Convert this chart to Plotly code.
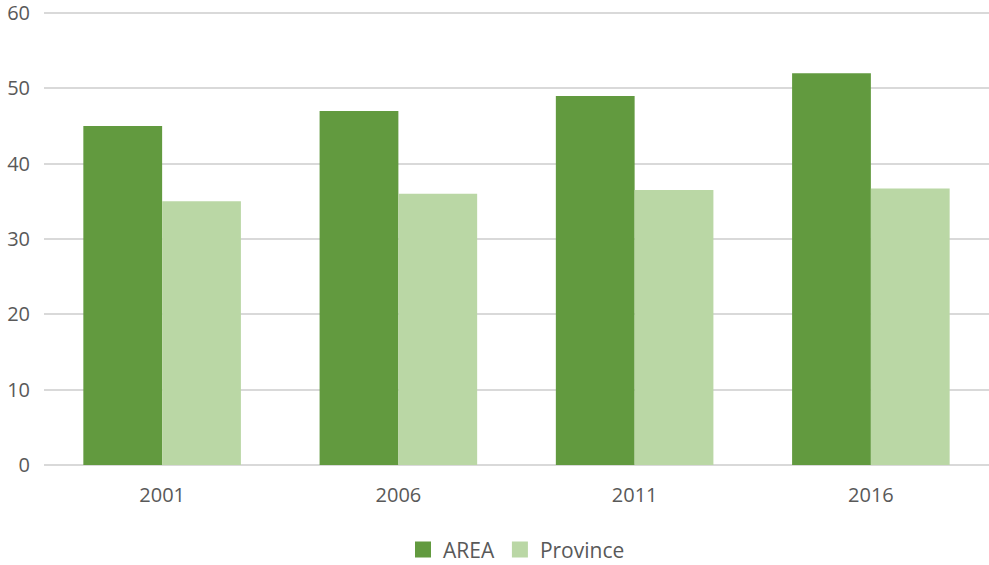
import plotly.graph_objects as go

years = ["2001", "2006", "2011", "2016"]
area = [45, 47, 49, 52]
province = [35, 36, 36.5, 36.7]

series_names = ["AREA", "Province"]
colors = ["#629A3F", "#BAD7A5"]

font = "Open Sans"
fig = go.Figure()
fig.add_trace(go.Bar(name=series_names[0], x=years, y=area, showlegend=False,
                     marker=dict(color=colors[0], line=dict(width=0))))
fig.add_trace(go.Bar(name=series_names[1], x=years, y=province, showlegend=False,
                     marker=dict(color=colors[1], line=dict(width=0))))
# legend entries with larger square swatches
for n, c in zip(series_names, colors):
    fig.add_trace(go.Scatter(name=n, x=[None], y=[None], mode="markers",
                             marker=dict(symbol="square", size=19, color=c), showlegend=True))

fig.update_layout(
    width=989, height=565,
    margin=dict(l=44, r=0, t=10, b=100, autoexpand=False),
    paper_bgcolor="white", plot_bgcolor="white",
    barmode="group", bargap=0.333, bargroupgap=0,
    font=dict(family=font, size=20, color="#595959"),
    showlegend=True,
    legend=dict(orientation="h", x=0.5, xanchor="center", xref="paper",
                y=0.027, yanchor="middle", yref="container",
                font=dict(size=21, color="#595959"), itemsizing="trace", itemwidth=30),
    xaxis=dict(showgrid=False, showline=False, ticks="", ticklabelstandoff=16,
               tickfont=dict(size=20, color="#595959")),
    yaxis=dict(range=[0, 60.4], dtick=10, showgrid=True,
               gridcolor="#D9D9D9", gridwidth=1.5, ticklabeloverflow="allow",
               zeroline=True, zerolinecolor="#D9D9D9", zerolinewidth=1.5,
               showline=False, ticks="", ticklabelstandoff=13,
               tickfont=dict(size=20, color="#595959")),
)
fig.write_html("out.html")
